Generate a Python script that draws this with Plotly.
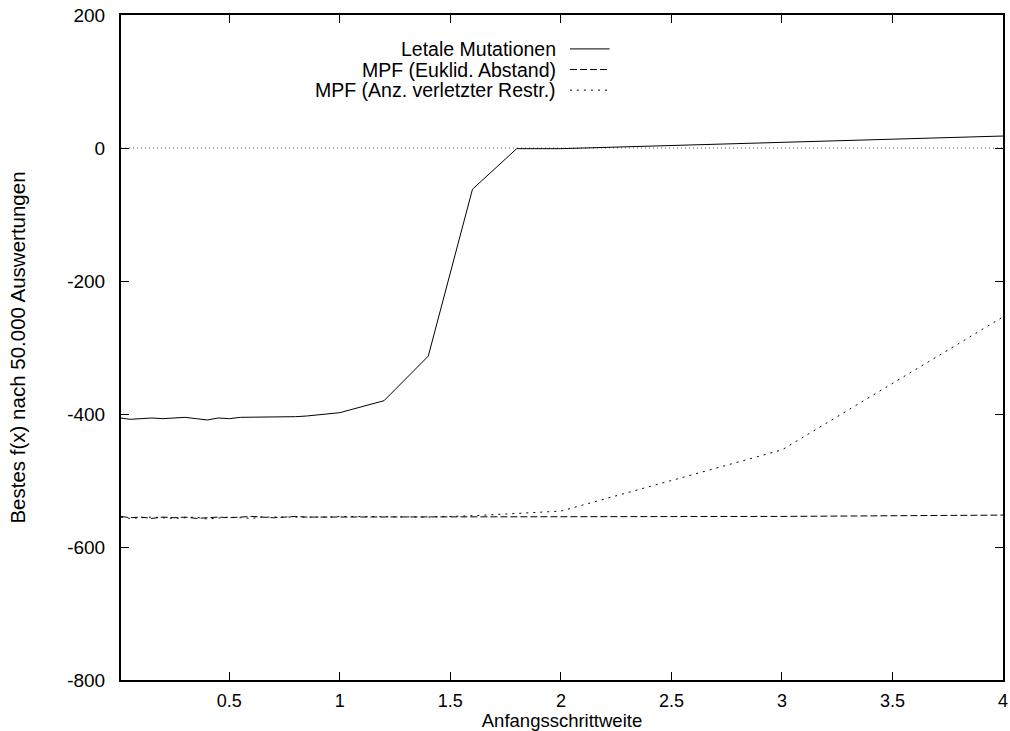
import plotly.graph_objects as go

# ---- data ----
x_vals = [0.01, 0.05, 0.1, 0.15, 0.2, 0.25, 0.3, 0.35, 0.4, 0.45, 0.5,
          0.55, 0.6, 0.65, 0.7, 0.75, 0.8, 0.85, 0.9, 0.95, 1.0,
          1.2, 1.4, 1.6, 1.8, 2.0, 3.0, 4.0]
letale = [-406, -408, -407, -406, -407, -406, -405, -407, -409, -406, -407,
          -405, -405, -404, -404, -404, -404, -403, -401, -400, -398,
          -380, -313, -62, -1, -1, 9, 18]
mpf_euklid = [-554, -556, -555, -557, -555, -556, -555, -557, -556, -555, -556,
              -555, -554, -555, -556, -555, -554, -555, -555, -554, -554,
              -554, -554, -554, -554, -554, -554, -552]
mpf_anz = [-555, -557, -556, -555, -556, -557, -556, -555, -558, -556, -555,
           -556, -557, -555, -555, -556, -555, -556, -555, -555, -554,
           -555, -555, -553, -549, -546, -454, -254]

series_names = ["Letale Mutationen", "MPF (Euklid. Abstand)", "MPF (Anz. verletzter Restr.)"]
x_ticks = [0.5, 1, 1.5, 2, 2.5, 3, 3.5, 4]
y_ticks = [-800, -600, -400, -200, 0, 200]

FONT = "Liberation Sans, Arial, Helvetica, sans-serif"
FS = 19
dashes = ["solid", "7px,3px", "2px,5px"]

fig = go.Figure()
# zero axis (dotted)
fig.add_trace(go.Scatter(x=[0.01, 4], y=[0, 0], mode="lines",
                         line=dict(color="#555555", width=1, dash="1px,3px"),
                         showlegend=False, hoverinfo="skip"))
for ys, name, d in zip([letale, mpf_euklid, mpf_anz], series_names, dashes):
    fig.add_trace(go.Scatter(x=x_vals, y=ys, mode="lines", name=name,
                             line=dict(color="black", width=1, dash=d),
                             showlegend=False))

# manual gnuplot-style legend (text right-aligned, sample to the right)
legend_y = [0.949, 0.918, 0.887]
for name, d, ly in zip(series_names, dashes, legend_y):
    fig.add_annotation(x=0.4955, y=ly, xref="paper", yref="paper",
                       text=name, showarrow=False, xanchor="right", yanchor="middle",
                       font=dict(family=FONT, size=FS + 0.5, color="black"))
    fig.add_shape(type="line", xref="paper", yref="paper",
                  x0=0.509, x1=0.554, y0=ly, y1=ly,
                  line=dict(color="black", width=1, dash=d))

axis_common = dict(
    showline=True, linecolor="black", linewidth=2, mirror="ticks",
    ticks="inside", ticklen=8, tickwidth=1, tickcolor="black",
    showgrid=False, zeroline=False, automargin=False,
)
fig.update_xaxes(range=[0.01, 4], tickvals=x_ticks,
                 ticktext=[f"{v:g}" for v in x_ticks],
                 tickfont=dict(family=FONT, size=18, color="black"),
                 title=dict(text="Anfangsschrittweite", standoff=7,
                            font=dict(family=FONT, size=18.5, color="black")),
                 ticklabelstandoff=3,
                 **axis_common)
fig.update_yaxes(range=[-800, 200], tickvals=y_ticks,
                 ticktext=[str(v) for v in y_ticks],
                 tickfont=dict(family=FONT, size=FS, color="black"),
                 title=dict(text="Bestes f(x) nach 50.000 Auswertungen", standoff=36,
                            font=dict(family=FONT, size=20.5, color="black")),
                 ticklabelstandoff=10,
                 **axis_common)

fig.update_layout(
    width=1010, height=731,
    margin=dict(l=121, r=7, t=15, b=51),
    paper_bgcolor="white", plot_bgcolor="white",
    font=dict(family=FONT, size=FS, color="black"),
)

fig.write_html("out.html")
